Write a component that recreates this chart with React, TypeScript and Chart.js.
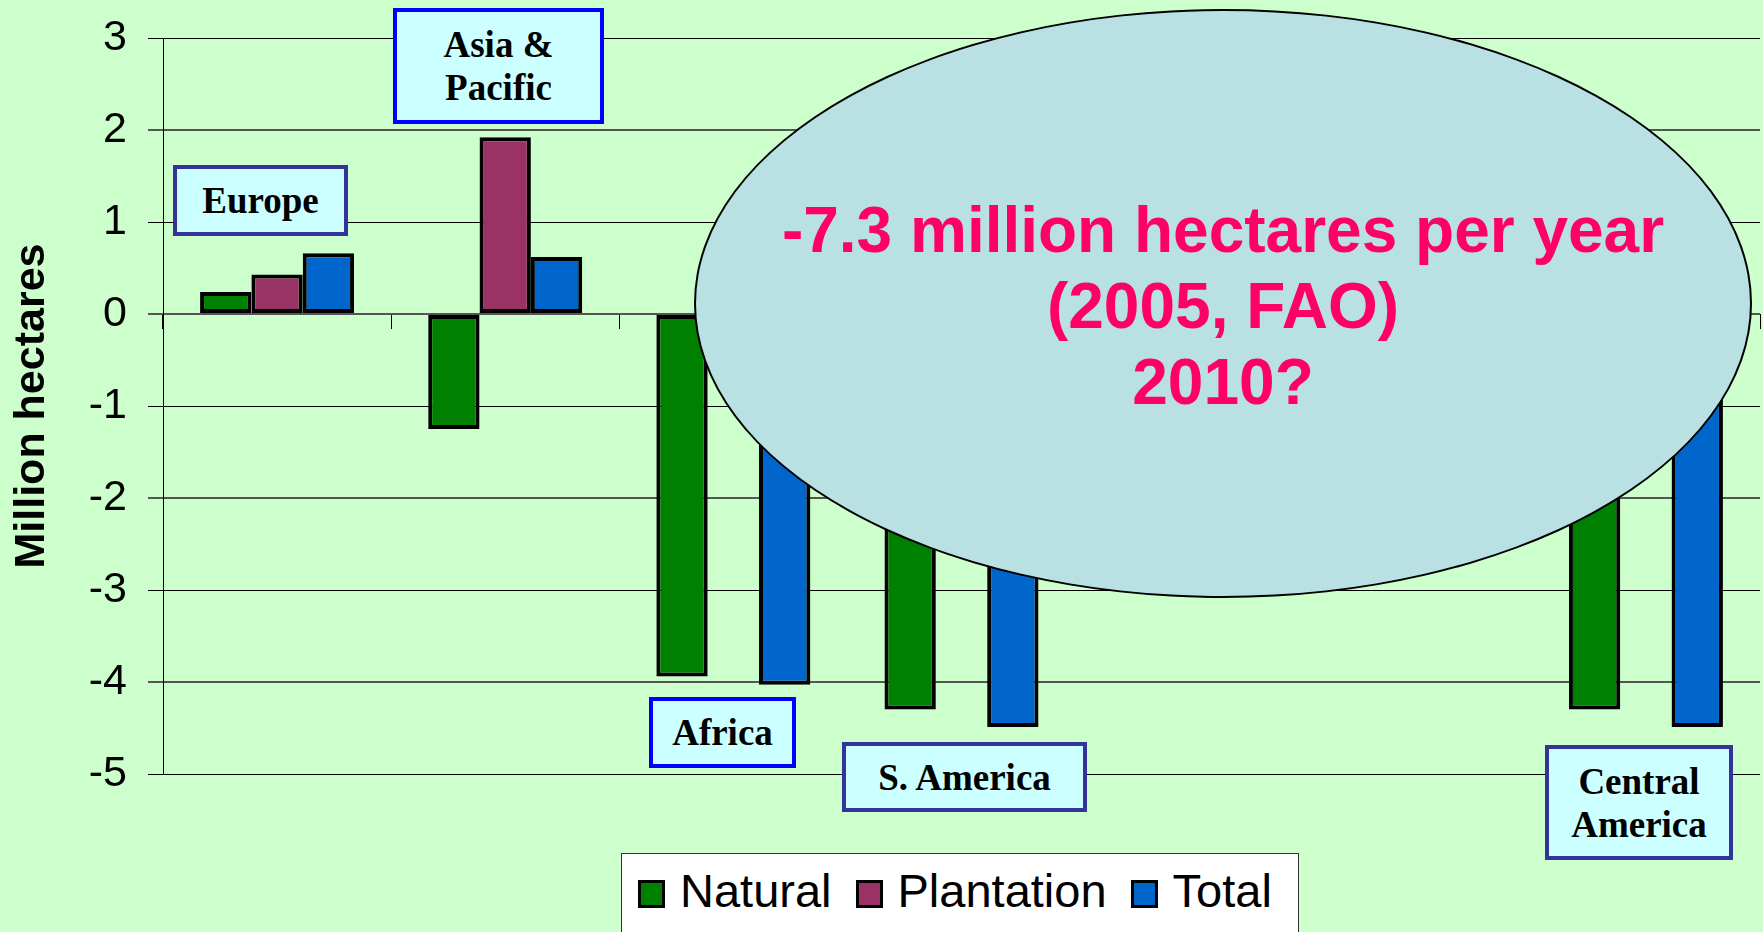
import React, { useEffect, useRef } from 'react';
import { Chart, registerables } from 'chart.js';

Chart.register(...registerables);

const categories = ['Europe', 'Asia & Pacific', 'Africa', 'S. America', 'N. America', 'Oceania', 'Central America'];
const naturalValues = [0.24, -1.25, -3.94, -4.3, -0.2, -0.3, -4.3];
const plantationValues = [0.43, 1.92, 0.04, 0.1, 0.3, 0.05, 0.1];
const totalValues = [0.66, 0.62, -4.03, -4.49, 0.1, -0.25, -4.49];
const yMin = -5;
const yMax = 3;
const seriesNames = ['Natural', 'Plantation', 'Total'];
const seriesColors = ['#008000', '#993366', '#0066CC'];
const calloutLines = ['-7.3 million hectares per year', '(2005, FAO)', '2010?'];

const SANS = "'Liberation Sans', Arial, Helvetica, sans-serif";
const SERIF = "'Liberation Serif', 'Times New Roman', Times, serif";

type BoxSpec = { text: string; left: number; top: number; width: number; height: number; color: string };
const regionBoxes: BoxSpec[] = [
  { text: 'Europe', left: 173, top: 165, width: 175, height: 71, color: '#333399' },
  { text: 'Asia &\nPacific', left: 393, top: 8, width: 211, height: 116, color: '#0000FF' },
  { text: 'Africa', left: 649, top: 697, width: 147, height: 71, color: '#0000FF' },
  { text: 'S. America', left: 842, top: 742, width: 245, height: 70, color: '#333399' },
  { text: 'Central\nAmerica', left: 1545, top: 745, width: 188, height: 115, color: '#333399' },
];

export default function App() {
  const canvasRef = useRef<HTMLCanvasElement | null>(null);

  useEffect(() => {
    document.body.style.margin = '0';
    document.body.style.background = '#CCFFCC';
    const canvas = canvasRef.current;
    if (!canvas) return;
    const values = [naturalValues, plantationValues, totalValues];
    const chart = new Chart(canvas, {
      type: 'bar',
      data: {
        labels: categories,
        datasets: seriesNames.map((name, i) => ({
          label: name,
          data: values[i],
          backgroundColor: seriesColors[i],
          borderColor: '#000000',
          borderWidth: 4,
          borderSkipped: false,
          categoryPercentage: 0.675,
          barPercentage: 1.0,
        })),
      },
      options: {
        responsive: false,
        animation: false,
        layout: { padding: { left: 2, top: 38, bottom: 158, right: 3 } },
        plugins: {
          legend: { display: false },
          tooltip: { enabled: false },
        },
        scales: {
          x: {
            type: 'category',
            position: { y: 0 } as any,
            offset: true,
            grid: {
              display: true,
              offset: true,
              drawOnChartArea: false,
              drawTicks: true,
              tickLength: 15,
              color: '#000000',
              lineWidth: 1,
            },
            border: { display: false },
            ticks: { display: false },
          },
          y: {
            type: 'linear',
            min: yMin,
            max: yMax,
            afterFit: (scale: any) => {
              scale.width = 161;
              scale.paddingTop = 0;
              scale.paddingBottom = 0;
            },
            ticks: {
              stepSize: 1,
              color: '#000000',
              padding: 21,
              font: { family: SANS, size: 43 },
            },
            grid: {
              drawTicks: true,
              tickLength: 15,
              color: (ctx: any) => (ctx.tick && Math.abs(ctx.tick.value) % 2 === 0 ? '#555555' : '#000000'),
              lineWidth: (ctx: any) => (ctx.tick && Math.abs(ctx.tick.value) % 2 === 0 ? 2 : 1),
            },
            border: { display: true, color: '#000000', width: 1 },
            title: {
              display: true,
              text: 'Million hectares',
              color: '#000000',
              font: { family: SANS, size: 43, weight: 'bold' },
            },
          },
        },
      },
    });
    return () => chart.destroy();
  }, []);

  return (
    <div
      style={{
        position: 'fixed',
        left: 0,
        top: 0,
        width: 1763,
        height: 932,
        overflow: 'hidden',
        background: '#CCFFCC',
      }}
    >
      <canvas ref={canvasRef} width={1763} height={932} style={{ position: 'absolute', left: 0, top: 0, width: 1763, height: 932 }} />

      {regionBoxes.map((b) => (
        <div
          key={b.text}
          style={{
            position: 'absolute',
            left: b.left,
            top: b.top,
            width: b.width,
            height: b.height,
            boxSizing: 'border-box',
            border: `4px solid ${b.color}`,
            background: '#CCFFFF',
            display: 'flex',
            alignItems: 'center',
            justifyContent: 'center',
            textAlign: 'center',
            whiteSpace: 'pre-line',
            fontFamily: SERIF,
            fontWeight: 'bold',
            fontSize: 37,
            lineHeight: '43px',
            color: '#000000',
          }}
        >
          {b.text}
        </div>
      ))}

      <div
        style={{
          position: 'absolute',
          left: 694,
          top: 9,
          width: 1058,
          height: 589,
          boxSizing: 'border-box',
          borderRadius: '50%',
          border: '2px solid #000000',
          background: '#B9E0E3',
          display: 'flex',
          flexDirection: 'column',
          alignItems: 'center',
          justifyContent: 'center',
          fontFamily: SANS,
          fontWeight: 'bold',
          fontSize: 64,
          lineHeight: '76px',
          color: '#FF0066',
          textAlign: 'center',
          paddingTop: 4,
        }}
      >
        {calloutLines.map((l) => (
          <div key={l} style={{ whiteSpace: 'nowrap' }}>{l}</div>
        ))}
      </div>

      <div
        style={{
          position: 'absolute',
          left: 621,
          top: 853,
          width: 678,
          height: 110,
          boxSizing: 'border-box',
          border: '1px solid #333333',
          background: '#FFFFFF',
        }}
      >
        <div
          style={{
            position: 'absolute',
            left: 16,
            top: 9,
            height: 56,
            display: 'flex',
            alignItems: 'center',
            whiteSpace: 'nowrap',
            fontFamily: SANS,
            fontSize: 47,
            lineHeight: '56px',
            color: '#000000',
          }}
        >
          {seriesNames.map((name, i) => (
            <React.Fragment key={name}>
              <span
                style={{
                  display: 'inline-block',
                  width: 27,
                  height: 28,
                  boxSizing: 'border-box',
                  border: '3px solid #000000',
                  background: seriesColors[i],
                  marginTop: 6,
                  marginRight: 15,
                }}
              />
              <span style={{ marginRight: i < seriesNames.length - 1 ? 24 : 0 }}>{name}</span>
            </React.Fragment>
          ))}
        </div>
      </div>
    </div>
  );
}
